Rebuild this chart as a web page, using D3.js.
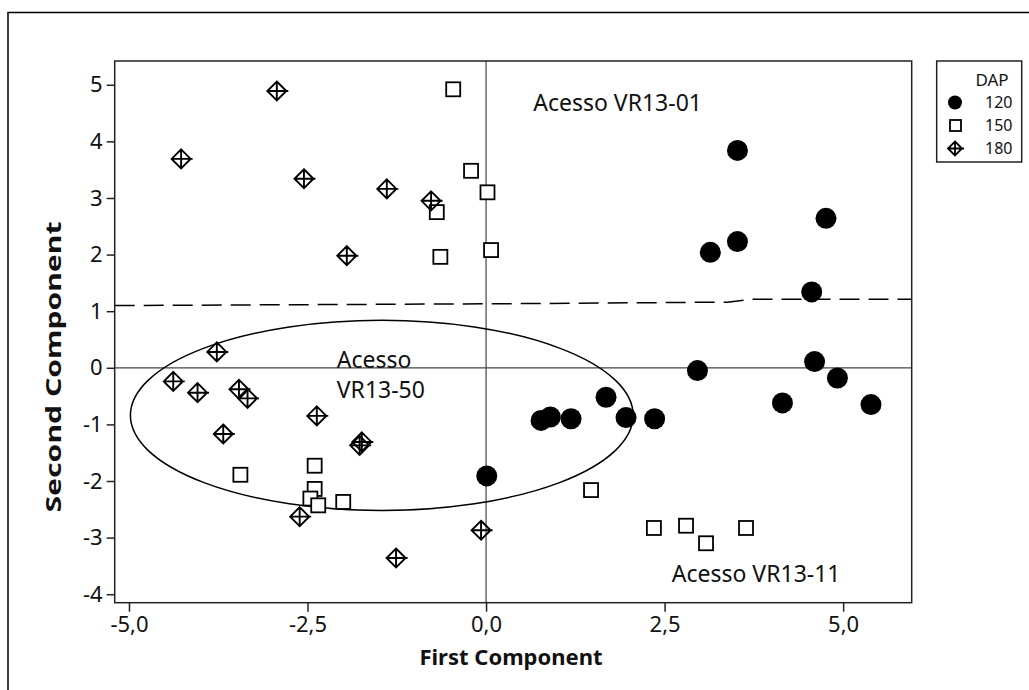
<!DOCTYPE html>
<html>
<head>
<meta charset="utf-8">
<script src="https://cdn.jsdelivr.net/npm/d3@7"></script>
<style>
  body { margin: 0; background: #fff; }
  text { font-family: "Noto Sans", sans-serif; fill: #111; }
</style>
</head>
<body>
<svg width="1029" height="690"></svg>
<script>
// DAP 120 (filled circles)
const dap120 = [
  [3.52, 3.84], [4.76, 2.64], [3.52, 2.23], [3.14, 2.04], [4.56, 1.34],
  [2.96, -0.05], [4.60, 0.11], [4.92, -0.18], [4.15, -0.62], [5.39, -0.65],
  [0.77, -0.93], [0.90, -0.87], [1.19, -0.90], [1.68, -0.52], [1.96, -0.88],
  [2.36, -0.90], [0.01, -1.91]
];
// DAP 150 (open squares)
const dap150 = [
  [-0.46, 4.92], [-0.21, 3.48], [0.02, 3.10], [-0.69, 2.75], [-0.64, 1.96],
  [0.07, 2.08], [-3.44, -1.89], [-2.40, -1.73], [-2.40, -2.14], [-2.46, -2.31],
  [-2.35, -2.43], [-2.00, -2.37], [1.47, -2.16], [2.35, -2.83], [2.80, -2.79],
  [3.08, -3.10], [3.64, -2.83]
];
// DAP 180 (diamond with cross)
const dap180 = [
  [-4.27, 3.69], [-2.93, 4.89], [-2.55, 3.34], [-1.39, 3.16], [-0.77, 2.95],
  [-1.95, 1.98], [-3.77, 0.28], [-4.38, -0.24], [-4.04, -0.44], [-3.46, -0.38],
  [-3.34, -0.54], [-3.68, -1.17], [-2.37, -0.85], [-1.74, -1.31], [-1.77, -1.37],
  [-2.61, -2.63], [-1.26, -3.36], [-0.07, -2.87]
];
const dashedLine = [[-5.2, 1.10], [0, 1.13], [3.38, 1.16], [3.7, 1.21], [5.96, 1.21]];
const ellipse = { cx: -1.46, cy: -0.84, rx: 3.52, ry: 1.68 };
const notes = [
  { x: 0.66, y: 4.53, lines: ["Acesso VR13-01"] },
  { x: -2.09, y: 0.0, lines: ["Acesso", "VR13-50"] },
  { x: 2.60, y: -3.78, lines: ["Acesso VR13-11"] }
];
const xTicks = [-5, -2.5, 0, 2.5, 5];
const yTicks = [-4, -3, -2, -1, 0, 1, 2, 3, 4, 5];
const legendItems = ["120", "150", "180"];

const svg = d3.select("svg");
const pLeft = 114.7, pRight = 911.7, pTop = 61, pBottom = 602.7;

const x = d3.scaleLinear().domain([-5.2, 5.96]).range([pLeft, pRight]);
const y = d3.scaleLinear().domain([-4.15, 5.42]).range([pBottom, pTop]);

// outer frame
svg.append("rect").attr("x", 8).attr("y", 12.5).attr("width", 1040).attr("height", 700)
  .attr("fill", "none").attr("stroke", "#000").attr("stroke-width", 1.5);

// axes (hyphen minus, comma decimal)
const xFmt = d => d3.format(".1f")(d).replace("−", "-").replace(".", ",");
const yFmt = d => d3.format("d")(d).replace("−", "-");
const xAxis = svg.append("g").attr("transform", `translate(0,${pBottom})`)
  .call(d3.axisBottom(x).tickValues(xTicks).tickFormat(xFmt).tickSize(9).tickPadding(5));
const yAxis = svg.append("g").attr("transform", `translate(${pLeft},0)`)
  .call(d3.axisLeft(y).tickValues(yTicks).tickFormat(yFmt).tickSize(8).tickPadding(4));
[xAxis, yAxis].forEach(a => {
  a.select(".domain").remove();
  a.selectAll("line").attr("stroke", "#222").attr("stroke-width", 1.5);
  a.selectAll("text").attr("font-size", 22).attr("font-family", "Noto Sans").attr("fill", "#111");
});

// reference lines
svg.append("line").attr("x1", x(0)).attr("x2", x(0)).attr("y1", pTop).attr("y2", pBottom)
  .attr("stroke", "#444").attr("stroke-width", 1.2);
svg.append("line").attr("x1", pLeft).attr("x2", pRight).attr("y1", y(0)).attr("y2", y(0))
  .attr("stroke", "#444").attr("stroke-width", 1.2);

// dashed divider
svg.append("path").datum(dashedLine)
  .attr("d", d3.line().x(d => x(d[0])).y(d => y(d[1])))
  .attr("fill", "none").attr("stroke", "#000").attr("stroke-width", 1.5)
  .attr("stroke-dasharray", "20,9");

// ellipse
svg.append("ellipse")
  .attr("cx", x(ellipse.cx)).attr("cy", y(ellipse.cy))
  .attr("rx", x(ellipse.rx) - x(0)).attr("ry", y(0) - y(ellipse.ry))
  .attr("fill", "none").attr("stroke", "#000").attr("stroke-width", 1.5);

// annotations
notes.forEach(n => {
  const t = svg.append("text").attr("x", x(n.x)).attr("y", y(n.y)).attr("font-size", 23);
  n.lines.forEach((l, i) => t.append("tspan").attr("x", x(n.x)).attr("dy", i ? 30 : 0).text(l));
});

// markers
const diamondPath = s => `M0,${-s}L${s},0L0,${s}L${-s},0Z M${-s},0H${s + 2} M0,${-s}V${s}`;

svg.append("g").selectAll("rect").data(dap150).join("rect")
  .attr("x", d => x(d[0]) - 7).attr("y", d => y(d[1]) - 7)
  .attr("width", 14).attr("height", 14)
  .attr("fill", "#fff").attr("stroke", "#000").attr("stroke-width", 1.8);

svg.append("g").selectAll("path").data(dap180).join("path")
  .attr("transform", d => `translate(${x(d[0])},${y(d[1])})`)
  .attr("d", diamondPath(9.5))
  .attr("fill", "none").attr("stroke", "#000").attr("stroke-width", 1.9);

svg.append("g").selectAll("circle").data(dap120).join("circle")
  .attr("cx", d => x(d[0])).attr("cy", d => y(d[1])).attr("r", 10.5)
  .attr("fill", "#000");

// plot frame
svg.append("rect").attr("x", pLeft).attr("y", pTop)
  .attr("width", pRight - pLeft).attr("height", pBottom - pTop)
  .attr("fill", "none").attr("stroke", "#222").attr("stroke-width", 1.5);

// axis titles
svg.append("text").attr("x", 511).attr("y", 665).attr("text-anchor", "middle")
  .attr("font-size", 22).attr("font-weight", "bold").text("First Component");
svg.append("text").attr("transform", "translate(61,367) rotate(-90)")
  .attr("text-anchor", "middle").attr("font-size", 22).attr("font-weight", "bold")
  .attr("textLength", 291).attr("lengthAdjust", "spacingAndGlyphs")
  .text("Second Component");

// legend
const lg = svg.append("g");
lg.append("rect").attr("x", 936.7).attr("y", 61).attr("width", 85).attr("height", 101)
  .attr("fill", "#fff").attr("stroke", "#222").attr("stroke-width", 1.5);
lg.append("text").attr("x", 992).attr("y", 86).attr("text-anchor", "middle")
  .attr("font-size", 17).text("DAP");
const ly = d3.scalePoint().domain(legendItems).range([102.5, 148.5]);
legendItems.forEach((k, i) => {
  const cy = ly(k);
  if (i === 0) lg.append("circle").attr("cx", 955).attr("cy", cy).attr("r", 7).attr("fill", "#000");
  if (i === 1) lg.append("rect").attr("x", 950).attr("y", cy - 5.5).attr("width", 11).attr("height", 11)
    .attr("fill", "none").attr("stroke", "#000").attr("stroke-width", 1.8);
  if (i === 2) lg.append("path").attr("transform", `translate(955,${cy})`).attr("d", diamondPath(7))
    .attr("fill", "none").attr("stroke", "#000").attr("stroke-width", 1.8);
  lg.append("text").attr("x", 985).attr("y", cy).attr("dy", "0.36em")
    .attr("font-size", 16).text(k);
});
</script>
</body>
</html>
